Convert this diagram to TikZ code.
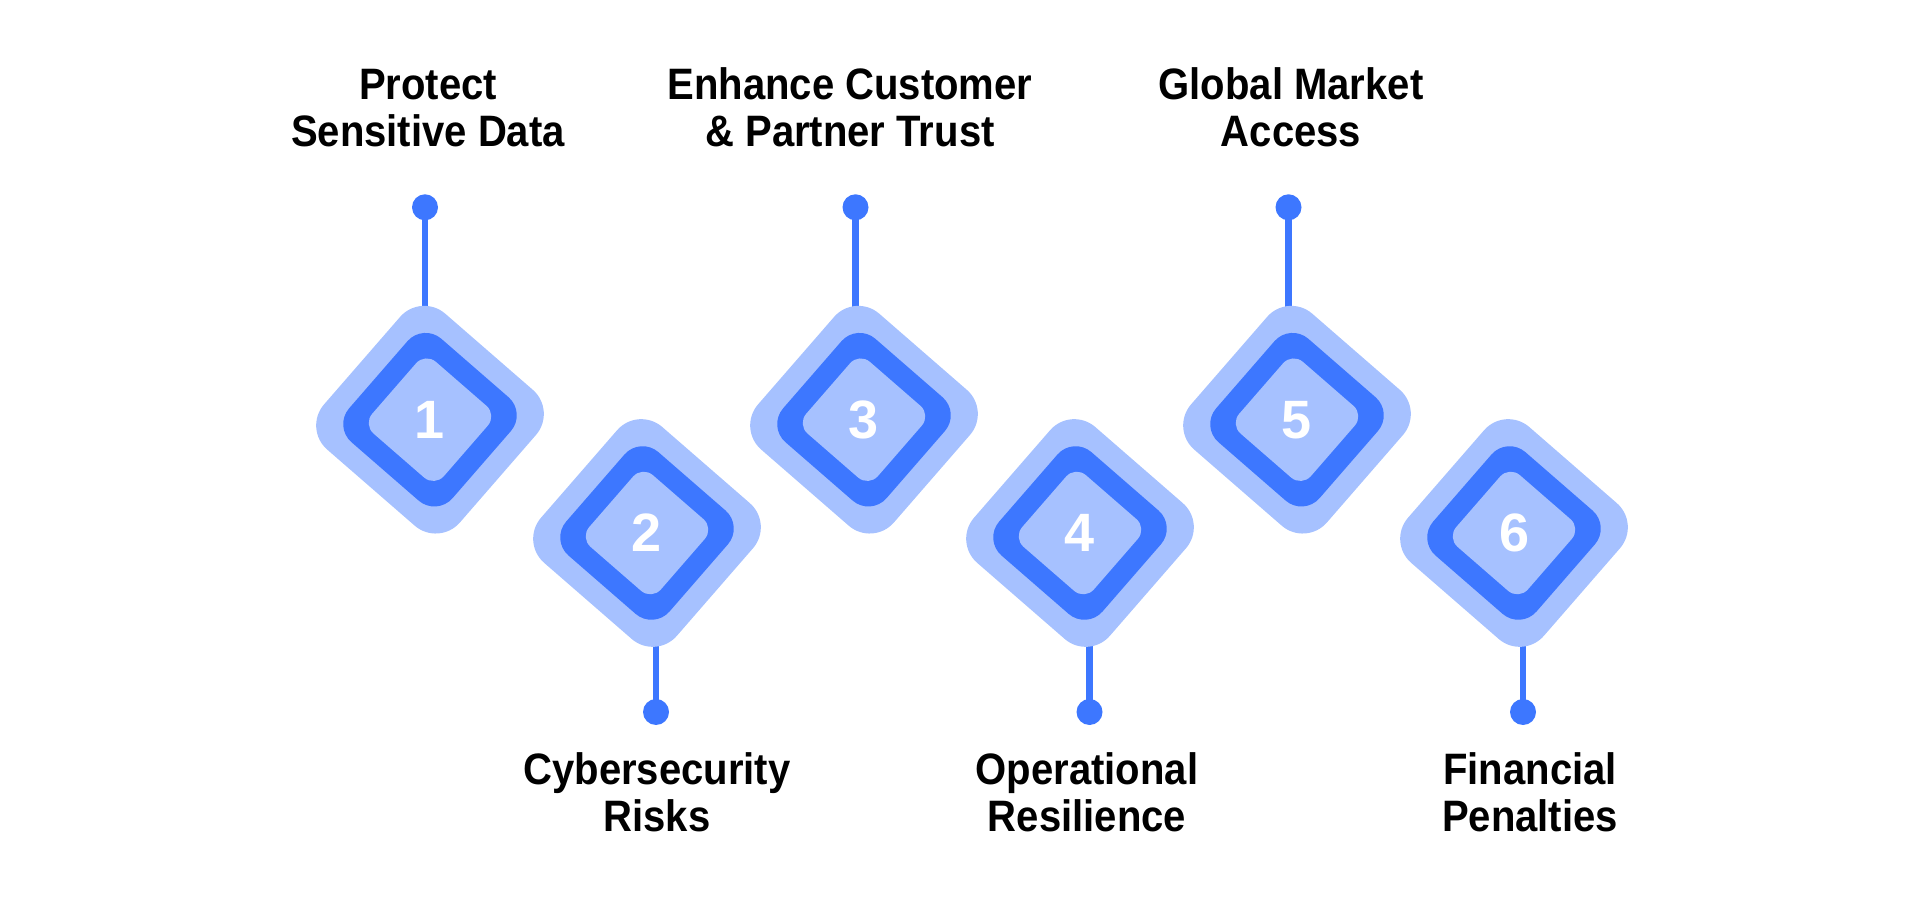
\documentclass[tikz,border=0pt]{standalone}
\usepackage{fontspec}
\setmainfont{Liberation Sans}[FakeStretch=0.91]
\newfontfamily\numfont{Liberation Sans}
\usetikzlibrary{backgrounds}
\definecolor{lightblue}{RGB}{166,193,255}
\definecolor{mainblue}{RGB}{61,119,255}
\begin{document}
\begin{tikzpicture}[x=1pt,y=1pt,
  outerd/.style={rectangle, minimum size=180pt, inner sep=0pt, rounded corners=32pt, fill=lightblue, rotate=49},
  ringd/.style={rectangle, minimum size=137pt, inner sep=0pt, rounded corners=24pt, fill=mainblue, rotate=49},
  innerd/.style={rectangle, minimum size=95pt, inner sep=0pt, rounded corners=14pt, fill=lightblue, rotate=49},
  numtxt/.style={text=white, font=\numfont\bfseries\fontsize{54}{54}\selectfont, inner sep=0pt},
  dotnode/.style={circle, fill=mainblue, minimum size=26pt, inner sep=0pt},
  stemline/.style={draw=mainblue, line width=6.5pt},
  lbltext/.style={font=\bfseries\fontsize{44}{47.3}\selectfont, align=center, anchor=base, inner sep=0pt}
]
\useasboundingbox (0,0) rectangle (1920,903);
% diamonds
\foreach \i/\x/\y in {1/430/483.3, 2/647/370, 3/864/483.3, 4/1080/370, 5/1297/483.3, 6/1514/370}{
  \node[outerd] (o\i) at (\x,\y) {};
  \node[ringd] (r\i) at (o\i.center) {};
  \node[innerd] (c\i) at (o\i.center) {};
  \node[numtxt] (n\i) at (o\i.center) {\i};
}
% dots
\node[dotnode] (t1) at (425,695.7) {};
\node[dotnode] (t3) at (855.5,695.7) {};
\node[dotnode] (t5) at (1288.5,695.7) {};
\node[dotnode] (b2) at (656,191) {};
\node[dotnode] (b4) at (1089.5,191) {};
\node[dotnode] (b6) at (1523,191) {};
\begin{scope}[on background layer]
  \draw[stemline] (t1.center) -- (t1.center |- o1.center);
  \draw[stemline] (t3.center) -- (t3.center |- o3.center);
  \draw[stemline] (t5.center) -- (t5.center |- o5.center);
  \draw[stemline] (b2.center) -- (b2.center |- o2.center);
  \draw[stemline] (b4.center) -- (b4.center |- o4.center);
  \draw[stemline] (b6.center) -- (b6.center |- o6.center);
\end{scope}
% labels (anchor = baseline of the last line)
\node[lbltext] (l1) at (428,756.3) {Protect\\Sensitive Data};
\node[lbltext] (l3) at (850,756.3) {Enhance Customer\\\& Partner Trust};
\node[lbltext] (l5) at (1291,756.3) {Global Market\\Access};
\node[lbltext] (l2) at (657,71.2) {Cybersecurity\\Risks};
\node[lbltext] (l4) at (1087,71.2) {Operational\\Resilience};
\node[lbltext] (l6) at (1530,71.2) {Financial\\Penalties};
\end{tikzpicture}
\end{document}
